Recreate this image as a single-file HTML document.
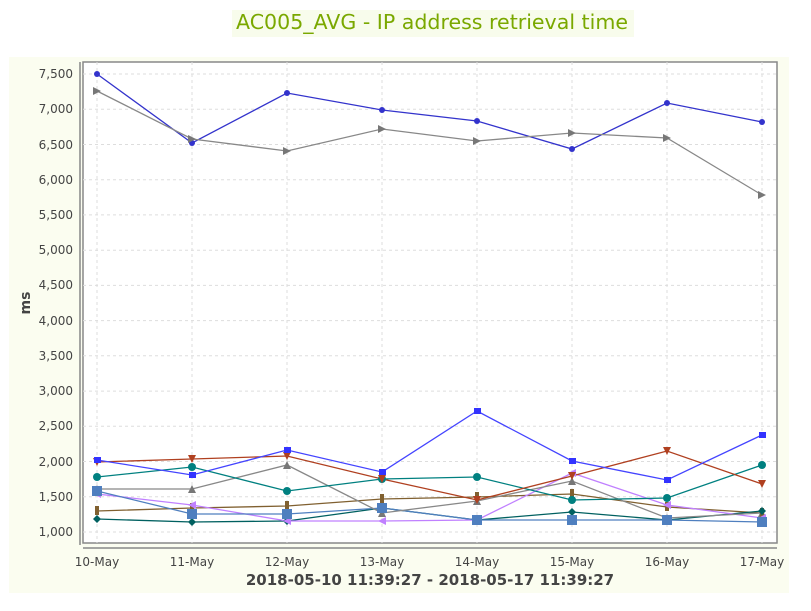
<!DOCTYPE html>
<html><head><style>
body{margin:0;background:#fff;width:811px;height:607px;overflow:hidden;font-family:"DejaVu Sans","Liberation Sans",sans-serif}
</style></head><body>
<svg width="811" height="607" xmlns="http://www.w3.org/2000/svg" font-family="DejaVu Sans, Liberation Sans, sans-serif">
<rect x="232" y="10" width="402" height="27" fill="#f8fcec"/>
<text x="432" y="29" text-anchor="middle" font-size="20" fill="#7aa800" textLength="392" lengthAdjust="spacingAndGlyphs">AC005_AVG - IP address retrieval time</text>
<rect x="9" y="57" width="780" height="536" fill="#fbfdf0"/>
<rect x="83" y="62" width="694" height="481" fill="#fff" stroke="#888" stroke-width="1.5"/>
<line x1="80" y1="62" x2="80" y2="545" stroke="#888" stroke-width="1.5"/>
<line x1="83" y1="548" x2="777" y2="548" stroke="#888" stroke-width="1.5"/>
<g stroke="#ddd" stroke-dasharray="3,3" stroke-width="1">
<line x1="83" x2="777" y1="74" y2="74"/><line x1="83" x2="777" y1="109.2" y2="109.2"/><line x1="83" x2="777" y1="144.5" y2="144.5"/><line x1="83" x2="777" y1="179.7" y2="179.7"/><line x1="83" x2="777" y1="214.9" y2="214.9"/><line x1="83" x2="777" y1="250.2" y2="250.2"/><line x1="83" x2="777" y1="285.4" y2="285.4"/><line x1="83" x2="777" y1="320.6" y2="320.6"/><line x1="83" x2="777" y1="355.8" y2="355.8"/><line x1="83" x2="777" y1="391.1" y2="391.1"/><line x1="83" x2="777" y1="426.3" y2="426.3"/><line x1="83" x2="777" y1="461.5" y2="461.5"/><line x1="83" x2="777" y1="496.8" y2="496.8"/><line x1="83" x2="777" y1="532" y2="532"/>
<line y1="62" y2="543" x1="97" x2="97"/><line y1="62" y2="543" x1="192" x2="192"/><line y1="62" y2="543" x1="287" x2="287"/><line y1="62" y2="543" x1="382" x2="382"/><line y1="62" y2="543" x1="477" x2="477"/><line y1="62" y2="543" x1="572" x2="572"/><line y1="62" y2="543" x1="667" x2="667"/><line y1="62" y2="543" x1="762" x2="762"/>
</g>
<g font-size="12" fill="#444" text-anchor="end">
<text x="73" y="78">7,500</text><text x="73" y="113">7,000</text><text x="73" y="149">6,500</text><text x="73" y="184">6,000</text><text x="73" y="219">5,500</text><text x="73" y="254">5,000</text><text x="73" y="289">4,500</text><text x="73" y="325">4,000</text><text x="73" y="360">3,500</text><text x="73" y="395">3,000</text><text x="73" y="430">2,500</text><text x="73" y="466">2,000</text><text x="73" y="501">1,500</text><text x="73" y="536">1,000</text>
</g>
<g font-size="12" fill="#444" text-anchor="middle">
<text x="97" y="566">10-May</text><text x="192" y="566">11-May</text><text x="287" y="566">12-May</text><text x="382" y="566">13-May</text><text x="477" y="566">14-May</text><text x="572" y="566">15-May</text><text x="667" y="566">16-May</text><text x="762" y="566">17-May</text>
</g>
<text x="430" y="585" font-size="15" font-weight="bold" fill="#444" text-anchor="middle">2018-05-10 11:39:27 - 2018-05-17 11:39:27</text>
<text transform="translate(30,303) rotate(-90)" font-size="14" font-weight="bold" fill="#444" text-anchor="middle">ms</text>
<g fill="none" stroke-width="1.3">
<polyline stroke="#3333cc" points="97,74 192,143 287,93 382,110 477,121 572,149 667,103 762,122"/>
<polyline stroke="#888" points="97,91 192,139 287,151 382,129 477,141 572,133 667,138 762,195"/>
<polyline stroke="#806030" points="97,511 192,508 287,506 382,499 477,497 572,494 667,507 762,513"/>
<polyline stroke="#006060" points="97,519 192,522 287,521 382,508 477,520 572,512 667,520 762,511"/>
<polyline stroke="#c080ff" points="97,494 192,505 287,521 382,521 477,520 572,473 667,505 762,518"/>
<polyline stroke="#4f7fbf" points="97,491 192,514 287,514 382,508 477,520 572,520 667,520 762,522"/>
<polyline stroke="#888" points="97,489 192,489 287,465 382,513 477,501 572,481 667,518 762,513"/>
<polyline stroke="#008080" points="97,477 192,467 287,491 382,479 477,477 572,500 667,498 762,465"/>
<polyline stroke="#b04020" points="97,462 192,459 287,456 382,479 477,500 572,476 667,451 762,484"/>
<polyline stroke="#4444ff" points="97,460 192,475 287,450 382,472 477,411 572,461 667,480 762,435"/>
</g>
<g fill="#3333cc"><circle cx="97" cy="74" r="3"/><circle cx="192" cy="143" r="3"/><circle cx="287" cy="93" r="3"/><circle cx="382" cy="110" r="3"/><circle cx="477" cy="121" r="3"/><circle cx="572" cy="149" r="3"/><circle cx="667" cy="103" r="3"/><circle cx="762" cy="122" r="3"/></g>
<g fill="#777">
<polygon points="93,87 101,91 93,95"/><polygon points="188,135 196,139 188,143"/><polygon points="283,147 291,151 283,155"/><polygon points="378,125 386,129 378,133"/><polygon points="473,137 481,141 473,145"/><polygon points="568,129 576,133 568,137"/><polygon points="663,134 671,138 663,142"/><polygon points="758,191 766,195 758,199"/>
<polygon points="97,485 101,493 93,493"/><polygon points="192,485 196,493 188,493"/><polygon points="287,461 291,469 283,469"/><polygon points="382,509 386,517 378,517"/><polygon points="477,497 481,505 473,505"/><polygon points="572,477 576,485 568,485"/><polygon points="667,514 671,522 663,522"/><polygon points="762,509 766,517 758,517"/>
</g>
<g fill="#806030"><rect x="95" y="506" width="4" height="9"/><rect x="190" y="503" width="4" height="9"/><rect x="285" y="501" width="4" height="9"/><rect x="380" y="494" width="4" height="9"/><rect x="475" y="492" width="4" height="9"/><rect x="570" y="489" width="4" height="9"/><rect x="665" y="502" width="4" height="9"/><rect x="760" y="508" width="4" height="9"/></g>
<g fill="#006060"><polygon points="97,515 101,519 97,523 93,519"/><polygon points="192,518 196,522 192,526 188,522"/><polygon points="287,517 291,521 287,525 283,521"/><polygon points="382,504 386,508 382,512 378,508"/><polygon points="477,516 481,520 477,524 473,520"/><polygon points="572,508 576,512 572,516 568,512"/><polygon points="667,516 671,520 667,524 663,520"/><polygon points="762,507 766,511 762,515 758,511"/></g>
<g fill="#c080ff"><polygon points="93,494 101,490 101,498"/><polygon points="188,505 196,501 196,509"/><polygon points="283,521 291,517 291,525"/><polygon points="378,521 386,517 386,525"/><polygon points="473,520 481,516 481,524"/><polygon points="568,473 576,469 576,477"/><polygon points="663,505 671,501 671,509"/><polygon points="758,518 766,514 766,522"/></g>
<g fill="#4f7fbf"><rect x="92" y="486" width="10" height="10"/><rect x="187" y="509" width="10" height="10"/><rect x="282" y="509" width="10" height="10"/><rect x="377" y="503" width="10" height="10"/><rect x="472" y="515" width="10" height="10"/><rect x="567" y="515" width="10" height="10"/><rect x="662" y="515" width="10" height="10"/><rect x="757" y="517" width="10" height="10"/></g>
<g fill="#008080"><circle cx="97" cy="477" r="4"/><circle cx="192" cy="467" r="4"/><circle cx="287" cy="491" r="4"/><circle cx="382" cy="479" r="4"/><circle cx="477" cy="477" r="4"/><circle cx="572" cy="500" r="4"/><circle cx="667" cy="498" r="4"/><circle cx="762" cy="465" r="4"/></g>
<g fill="#b04020"><polygon points="93,458 101,458 97,466"/><polygon points="188,455 196,455 192,463"/><polygon points="283,452 291,452 287,460"/><polygon points="378,475 386,475 382,483"/><polygon points="473,496 481,496 477,504"/><polygon points="568,472 576,472 572,480"/><polygon points="663,447 671,447 667,455"/><polygon points="758,480 766,480 762,488"/></g>
<g fill="#3333ff"><rect x="94" y="457" width="7" height="6"/><rect x="189" y="472" width="7" height="6"/><rect x="284" y="447" width="7" height="6"/><rect x="379" y="469" width="7" height="6"/><rect x="474" y="408" width="7" height="6"/><rect x="569" y="458" width="7" height="6"/><rect x="664" y="477" width="7" height="6"/><rect x="759" y="432" width="7" height="6"/></g>
</svg>
</body></html>
